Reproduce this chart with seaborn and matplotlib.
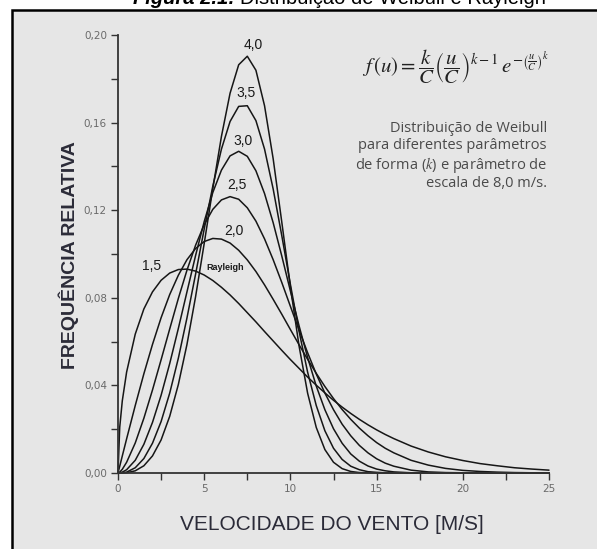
import matplotlib
matplotlib.use("Agg")
import matplotlib.pyplot as plt
from matplotlib.patches import Rectangle
from matplotlib.ticker import MultipleLocator, FuncFormatter
import seaborn as sns
import pandas as pd

# ---------------- data ----------------
speed = [0, 0.1, 0.25, 0.5, 1, 1.5, 2, 2.5, 3, 3.5, 4, 4.5, 5, 5.5, 6, 6.5,
         7, 7.5, 8, 8.5, 9, 9.5, 10, 10.5, 11, 11.5, 12, 12.5, 13, 13.5, 14,
         14.5, 15, 15.5, 16, 17, 18, 19, 20, 21, 22, 23, 24, 25]

k15 = [0, 0.0209, 0.0330, 0.0461, 0.0634, 0.0749, 0.0827, 0.0880, 0.0913,
       0.0929, 0.0931, 0.0922, 0.0904, 0.0879, 0.0848, 0.0813, 0.0774, 0.0732,
       0.0690, 0.0646, 0.0603, 0.0560, 0.0518, 0.0478, 0.0438, 0.0401, 0.0366,
       0.0332, 0.0301, 0.0272, 0.0245, 0.0220, 0.0197, 0.0176, 0.0157, 0.0123,
       0.0096, 0.0074, 0.0057, 0.0043, 0.0033, 0.0024, 0.0018, 0.0013]

k20 = [0, 0.0031, 0.0078, 0.0156, 0.0308, 0.0453, 0.0587, 0.0709, 0.0815,
       0.0903, 0.0974, 0.1025, 0.1057, 0.1071, 0.1068, 0.1050, 0.1017, 0.0973,
       0.0920, 0.0859, 0.0793, 0.0725, 0.0655, 0.0586, 0.0519, 0.0455, 0.0395,
       0.0340, 0.0290, 0.0245, 0.0205, 0.0170, 0.0139, 0.0113, 0.0092, 0.0058,
       0.0036, 0.0021, 0.0012, 0.0007, 0.0004, 0.0002, 0.0001, 0.0000]

k25 = [0, 0.0004, 0.0017, 0.0049, 0.0137, 0.0250, 0.0379, 0.0517, 0.0658,
       0.0797, 0.0926, 0.1040, 0.1134, 0.1204, 0.1247, 0.1262, 0.1250, 0.1211,
       0.1150, 0.1069, 0.0974, 0.0870, 0.0761, 0.0653, 0.0549, 0.0452, 0.0365,
       0.0289, 0.0223, 0.0170, 0.0126, 0.0092, 0.0065, 0.0045, 0.0031, 0.0013,
       0.0005, 0.0002, 0.0001, 0, 0, 0, 0, 0]

k30 = [0, 0.0001, 0.0004, 0.0015, 0.0058, 0.0131, 0.0231, 0.0355, 0.0500,
       0.0660, 0.0827, 0.0993, 0.1148, 0.1281, 0.1383, 0.1448, 0.1469, 0.1446,
       0.1380, 0.1276, 0.1143, 0.0991, 0.0831, 0.0673, 0.0527, 0.0397, 0.0289,
       0.0202, 0.0136, 0.0087, 0.0054, 0.0032, 0.0018, 0.0010, 0.0005, 0.0001,
       0, 0, 0, 0, 0, 0, 0, 0]

k35 = [0, 0, 0.0001, 0.0004, 0.0024, 0.0066, 0.0136, 0.0235, 0.0365, 0.0524,
       0.0708, 0.0908, 0.1114, 0.1310, 0.1479, 0.1605, 0.1674, 0.1677, 0.1609,
       0.1479, 0.1297, 0.1084, 0.0861, 0.0648, 0.0460, 0.0308, 0.0193, 0.0113,
       0.0062, 0.0031, 0.0015, 0.0006, 0.0003, 0.0001, 0, 0, 0, 0, 0, 0, 0, 0,
       0, 0]

k40 = [0, 0, 0, 0.0001, 0.0010, 0.0033, 0.0078, 0.0151, 0.0259, 0.0404,
       0.0587, 0.0805, 0.1048, 0.1299, 0.1537, 0.1734, 0.1864, 0.1903, 0.1839,
       0.1677, 0.1435, 0.1146, 0.0850, 0.0581, 0.0364, 0.0208, 0.0107, 0.0049,
       0.0020, 0.0007, 0.0002, 0.0001, 0, 0, 0, 0, 0, 0, 0, 0, 0, 0, 0, 0]

shape_labels = ["1,5", "2,0", "2,5", "3,0", "3,5", "4,0"]
series = [k15, k20, k25, k30, k35, k40]

x_ticks = [0, 5, 10, 15, 20, 25]
y_ticks = [0.00, 0.04, 0.08, 0.12, 0.16, 0.20]

title_bold = "Figura 2.1:"
title_rest = "Distribuição de Weibull e Rayleigh"
x_title = "VELOCIDADE DO VENTO [M/S]"
y_title = "FREQUÊNCIA RELATIVA"
note = ("Distribuição de Weibull\npara diferentes parâmetros\n"
        "de forma ($k$) e parâmetro de\nescala de 8,0 m/s.")
formula = (r"$f\,(u) = \dfrac{k}{C}\left(\dfrac{u}{C}\right)^{k-1}"
           r"\,e^{-\left(\frac{u}{C}\right)^{k}}$")

rows = []
for lab, vals in zip(shape_labels, series):
    for u, f in zip(speed, vals):
        rows.append({"k": lab, "u": u, "f": f})
df = pd.DataFrame(rows)

# ---------------- figure ----------------
sns.set_style("ticks")
plt.rcParams["font.family"] = ["DejaVu Sans"]
plt.rcParams["mathtext.fontset"] = "stix"

W, H = 597, 549
fig = plt.figure(figsize=(W / 100, H / 100), dpi=100)
fig.patch.set_facecolor("white")

# grey framed panel
fig.patches.append(Rectangle((12 / W, -0.05), 1.0, 1.05 - 10 / H,
                             transform=fig.transFigure, facecolor="#e6e6e6",
                             edgecolor="black", lw=1.8, zorder=-5))

ax = fig.add_axes([118 / W, 76 / H, 431 / W, 438 / H])
ax.set_facecolor("none")

sns.lineplot(data=df, x="u", y="f", hue="k", units="k", estimator=None,
             palette={lab: "#161616" for lab in shape_labels}, legend=False,
             linewidth=1.1, sort=False, ax=ax, clip_on=False)

ax.set_xlim(0, 25)
ax.set_ylim(0, 0.20)
ax.set_xticks(x_ticks)
ax.set_yticks(y_ticks)
ax.xaxis.set_minor_locator(MultipleLocator(2.5))
ax.yaxis.set_minor_locator(MultipleLocator(0.02))
ax.yaxis.set_major_formatter(FuncFormatter(lambda v, p: f"{v:.2f}".replace(".", ",")))
ax.xaxis.set_major_formatter(FuncFormatter(lambda v, p: f"{v:.0f}"))
for s in ["top", "right"]:
    ax.spines[s].set_visible(False)
for s in ["left", "bottom"]:
    ax.spines[s].set_color("#333333")
    ax.spines[s].set_linewidth(1.3)
ax.tick_params(which="both", direction="out", length=5, width=1.0,
               color="#333333", labelsize=7.5, labelcolor="#6a6a6a", pad=3)
ax.set_xlabel("")
ax.set_ylabel("")

# curve labels
label_pos = {"4,0": (7.85, 0.1955), "3,5": (7.45, 0.1735), "3,0": (7.25, 0.1515),
             "2,5": (6.9, 0.1315), "2,0": (6.7, 0.1105), "1,5": (1.95, 0.0945)}
for lab in shape_labels:
    x, y = label_pos[lab]
    ax.text(x, y, lab, ha="center", va="center", fontsize=10,
            color="#1a1a1a", family=["Liberation Sans", "DejaVu Sans"])
ax.text(6.2, 0.0940, "Rayleigh", ha="center", va="center", fontsize=6.5,
        color="#1a1a1a", fontweight="bold", family=["Liberation Sans"])

# title (partly cut at the top)
fig.text(240 / W, 1 - 4 / H, title_rest, ha="left", va="baseline",
         fontsize=14.5, family=["Liberation Sans", "DejaVu Sans"], color="black")
fig.text(235 / W, 1 - 4 / H, title_bold, ha="right", va="baseline",
         fontsize=14.5, fontweight="bold", fontstyle="italic",
         family=["Liberation Sans", "DejaVu Sans"], color="black")

# axis titles
fig.text(69 / W, 1 - 255 / H, y_title, rotation=90, ha="center", va="center",
         fontsize=14, fontweight="bold", color="#2b2b38",
         family=["Liberation Sans", "DejaVu Sans"])
fig.text(332 / W, 1 - 524 / H, x_title, ha="center", va="center",
         fontsize=15, color="#2b2b38",
         family=["Liberation Sans", "DejaVu Sans"])

# formula and note
fig.text(456 / W, 1 - 67 / H, formula, ha="center", va="center", fontsize=15,
         color="#222222")
fig.text(547 / W, 1 - 121 / H, note, ha="right", va="top", fontsize=10.5,
         linespacing=1.15, color="#4a4a4a", family=["Open Sans", "DejaVu Sans"])

fig.savefig("out.png", dpi=100, facecolor=fig.get_facecolor())
